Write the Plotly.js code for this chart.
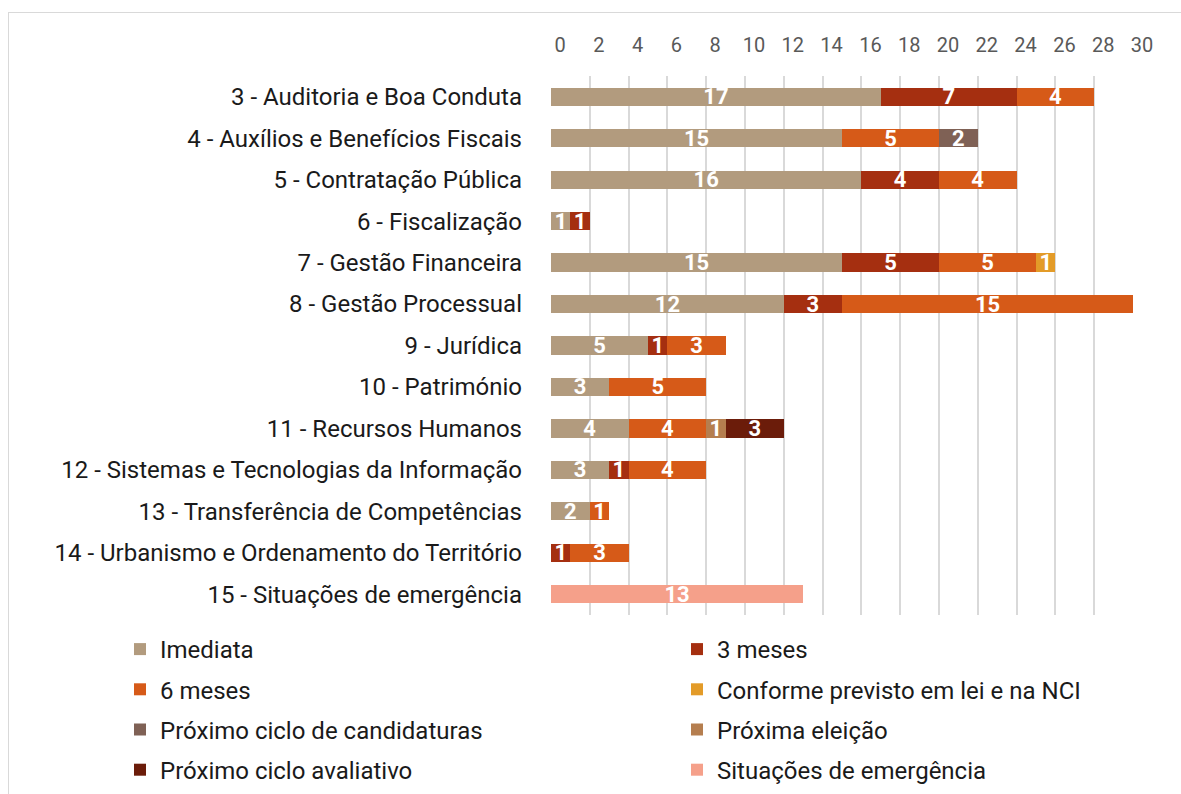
<!DOCTYPE html>
<html>
<head>
<meta charset="utf-8">
<script src="https://cdn.plot.ly/plotly-3.0.1.min.js"></script>
<style>
html,body{margin:0;padding:0;background:#fff;}
#frame{position:absolute;left:8px;top:12px;width:1180px;height:790px;border:1px solid #d9d9d9;box-sizing:border-box;}
#chart{position:absolute;left:0;top:0;width:1181px;height:794px;}
</style>
</head>
<body>
<div id="frame"></div>
<div id="chart"></div>
<script>
const categories = [
  "3 - Auditoria e Boa Conduta",
  "4 - Auxílios e Benefícios Fiscais",
  "5 - Contratação Pública",
  "6 - Fiscalização",
  "7 - Gestão Financeira",
  "8 - Gestão Processual",
  "9 - Jurídica",
  "10 - Património",
  "11 - Recursos Humanos",
  "12 - Sistemas e Tecnologias da Informação",
  "13 - Transferência de Competências",
  "14 - Urbanismo e Ordenamento do Território",
  "15 - Situações de emergência"
];
const seriesNames = [
  "Imediata", "3 meses", "6 meses", "Conforme previsto em lei e na NCI",
  "Próximo ciclo de candidaturas", "Próxima eleição", "Próximo ciclo avaliativo", "Situações de emergência"
];
const imediata      = [17, 15, 16, 1, 15, 12, 5, 3, 4, 3, 2, null, null];
const tresMeses     = [7, null, 4, 1, 5, 3, 1, null, null, 1, null, 1, null];
const seisMeses     = [4, 5, 4, null, 5, 15, 3, 5, 4, 4, 1, 3, null];
const conforme      = [null, null, null, null, 1, null, null, null, null, null, null, null, null];
const cicloCand     = [null, 2, null, null, null, null, null, null, null, null, null, null, null];
const proxEleicao   = [null, null, null, null, null, null, null, null, 1, null, null, null, null];
const cicloAval     = [null, null, null, null, null, null, null, null, 3, null, null, null, null];
const emergencia    = [null, null, null, null, null, null, null, null, null, null, null, null, 13];
const xTicks = [0,2,4,6,8,10,12,14,16,18,20,22,24,26,28,30];

const seriesValues = [imediata, tresMeses, seisMeses, conforme, cicloCand, proxEleicao, cicloAval, emergencia];
const colors = ["#b29b7e", "#a52f10", "#d65a18", "#e39b28", "#7f6155", "#b57e4f", "#6b1c0a", "#f5a08a"];

const traces = seriesValues.map((vals, i) => ({
  type: "bar",
  orientation: "h",
  name: seriesNames[i],
  y: categories,
  x: vals,
  text: vals.map(v => v == null ? "" : String(v)),
  textposition: "inside",
  insidetextanchor: "middle",
  textangle: 0,
  cliponaxis: false,
  textfont: {family: "Roboto", size: 22, color: "#ffffff", weight: "bold"},
  marker: {color: colors[i], line: {width: 0}},
  hoverinfo: "name+x",
  legend: (i % 2 === 0) ? "legend" : "legend2",
  legendgroup: "g" + i
}));

const legendCommon = {
  orientation: "v",
  xref: "container", yref: "container",
  xanchor: "left", yanchor: "top",
  font: {family: "Roboto", size: 24, color: "#1a1a1a"},
  tracegroupgap: 6,
  itemwidth: 30,
  bgcolor: "rgba(0,0,0,0)"
};

const layout = {
  width: 1181,
  height: 794,
  paper_bgcolor: "rgba(0,0,0,0)",
  plot_bgcolor: "rgba(0,0,0,0)",
  barmode: "stack",
  bargap: 0.56,
  margin: {l: 551, r: 48, t: 76, b: 179, autoexpand: false},
  font: {family: "Roboto", color: "#262626"},
  uniformtext: {mode: "show", minsize: 22},
  xaxis: {
    side: "top",
    range: [0, 30],
    tickvals: xTicks,
    ticktext: xTicks.map(String),
    showgrid: true,
    gridcolor: "#d9d9d9",
    gridwidth: 2,
    zeroline: false,
    showline: false,
    ticks: "",
    automargin: false,
    ticklabelstandoff: 19,
    ticklabelshift: 9,
    tickfont: {family: "Roboto", size: 20, color: "#595959"}
  },
  yaxis: {
    type: "category",
    autorange: "reversed",
    showgrid: false,
    zeroline: false,
    showline: false,
    ticks: "",
    automargin: false,
    ticklabelstandoff: 28,
    tickfont: {family: "Roboto", size: 24, color: "#1a1a1a"}
  },
  legend: Object.assign({}, legendCommon, {x: 120/1181, y: 1 - 627/794}),
  legend2: Object.assign({}, legendCommon, {x: 677/1181, y: 1 - 627/794}),
  showlegend: true
};

Plotly.newPlot("chart", traces, layout, {displayModeBar: false, staticPlot: true});
</script>
</body>
</html>
